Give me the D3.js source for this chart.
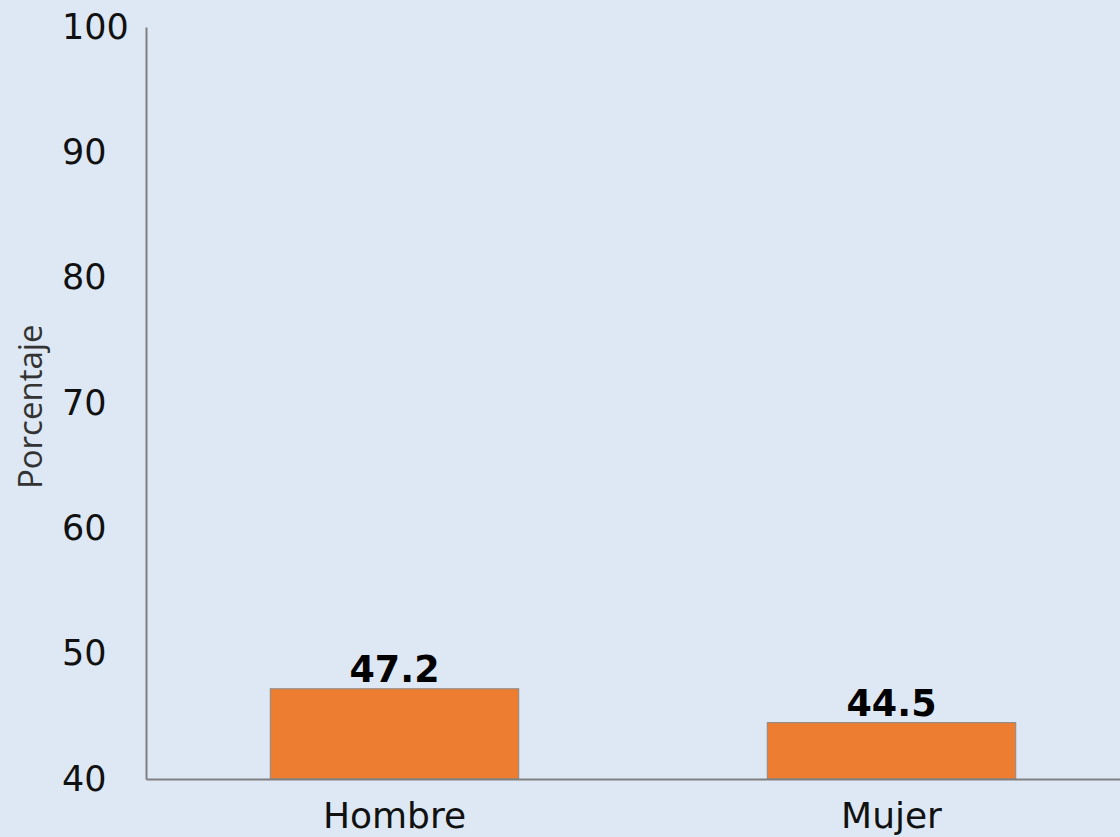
<!DOCTYPE html>
<html lang="es">
<head>
<meta charset="UTF-8">
<script src="https://cdn.jsdelivr.net/npm/d3@7/dist/d3.min.js"></script>
<style>
  html, body { margin: 0; padding: 0; background: #dde8f4; }
  svg { display: block; }
</style>
</head>
<body>
<script>
var categories = ["Hombre", "Mujer"];
var values = [47.2, 44.5];
var yTicks = [40, 50, 60, 70, 80, 90, 100];

var width = 1120, height = 837;
var margin = {top: 27, left: 146, bottom: 58};

var svg = d3.select("body").append("svg")
    .attr("width", width).attr("height", height);

svg.append("rect").attr("width", width).attr("height", height).attr("fill", "#dde8f4");

var x = d3.scaleBand()
    .domain(categories)
    .range([margin.left, 1140])
    .paddingInner(0.5)
    .paddingOuter(0.25);

var y = d3.scaleLinear()
    .domain([40, 100])
    .range([height - margin.bottom, margin.top]);

// bars
svg.selectAll("rect.bar").data(values)
    .enter()
    .append("rect")
    .attr("class", "bar")
    .attr("x", function(d, i){ return x(categories[i]); })
    .attr("y", function(d){ return y(d); })
    .attr("width", x.bandwidth())
    .attr("height", function(d){ return y(40) - y(d); })
    .attr("fill", "#ed7d31")
    .attr("stroke", "#8a8a8a")
    .attr("stroke-width", 1);

// value labels
svg.selectAll("text.val").data(values)
    .enter()
    .append("text")
    .attr("class", "val")
    .attr("x", function(d, i){ return x(categories[i]) + x.bandwidth() / 2; })
    .attr("y", function(d){ return y(d) - 7; })
    .attr("text-anchor", "middle")
    .attr("font-family", "DejaVu Sans, Verdana, sans-serif")
    .attr("font-weight", "bold")
    .attr("font-size", "36.5px")
    .attr("fill", "#000")
    .text(function(d){ return d.toFixed(1); });

// y axis (labels are left aligned in the original)
var yAxis = d3.axisLeft(y).tickValues(yTicks).tickSize(0);
var gy = svg.append("g")
    .attr("transform", "translate(" + margin.left + ",0)")
    .call(yAxis);
gy.select(".domain").attr("stroke", "#808080").attr("stroke-width", 2);
gy.selectAll("text")
    .attr("x", 62 - margin.left)
    .attr("text-anchor", "start")
    .attr("font-family", "DejaVu Sans, Verdana, sans-serif")
    .attr("font-size", "35px")
    .attr("fill", "#111");

// x axis
var xAxis = d3.axisBottom(x).tickSize(0).tickPadding(23);
var gx = svg.append("g")
    .attr("transform", "translate(0," + y(40) + ")")
    .call(xAxis);
gx.select(".domain").attr("stroke", "#808080").attr("stroke-width", 2);
gx.selectAll("text")
    .attr("font-family", "DejaVu Sans, Verdana, sans-serif")
    .attr("font-size", "36px")
    .attr("fill", "#111");

// y axis title
svg.append("text")
    .attr("transform", "translate(42," + y(69.7) + ") rotate(-90)")
    .attr("text-anchor", "middle")
    .attr("font-family", "Open Sans, sans-serif")
    .attr("font-size", "33px")
    .attr("fill", "#333")
    .text("Porcentaje");
</script>
</body>
</html>
